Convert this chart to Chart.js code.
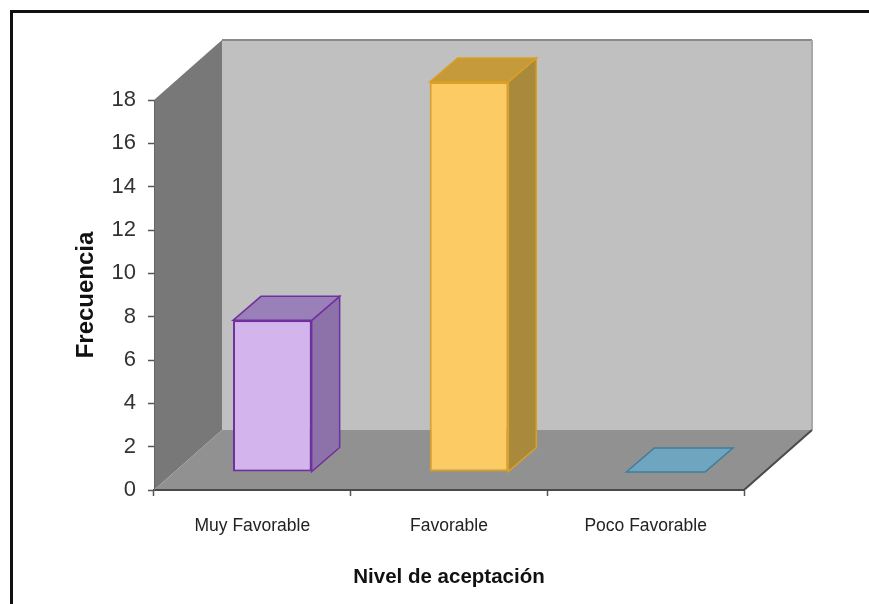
<!DOCTYPE html>
<html>
<head>
<meta charset="utf-8">
<title>Nivel de aceptación</title>
<script src="https://cdn.jsdelivr.net/npm/chart.js@4/dist/chart.umd.min.js"></script>
<style>
    html, body { margin: 0; padding: 0; background: #fff; }
    #wrap { width: 869px; height: 604px; }
</style>
</head>
<body>
<div id="wrap"><canvas id="myChart" width="869" height="604"></canvas></div>
<script>
const categories = ['Muy Favorable', 'Favorable', 'Poco Favorable'];
const frecuencia = [7, 18, 0];
const yMax = 18;
const yStep = 2;

const frontColors = ['#d4b4ec', '#fccb63', '#6fa5bf'];
const sideColors = ['#8c72a8', '#a98a3c', '#6fa5bf'];
const topColors = ['#9a80b8', '#c49a3a', '#6fa5bf'];
const edgeColors = ['#7030a0', '#dba024', '#3f7d9c'];

// profondeur du "3D" excel
const wallDx = 68, wallDy = 60;
const barShiftX = 20, barShiftY = 18;
const barDx = 28, barDy = 24;

function poly(ctx, pts, fill, stroke, lw) {
    ctx.beginPath();
    pts.forEach((p, i) => i ? ctx.lineTo(p[0], p[1]) : ctx.moveTo(p[0], p[1]));
    ctx.closePath();
    if (fill) { ctx.fillStyle = fill; ctx.fill(); }
    if (stroke) { ctx.strokeStyle = stroke; ctx.lineWidth = lw || 1; ctx.stroke(); }
}

const walls3d = {
    id: 'walls3d',
    beforeDraw(chart) {
        const ctx = chart.ctx;
        const a = chart.chartArea;
        ctx.save();
        ctx.fillStyle = '#fff';
        ctx.fillRect(0, 0, chart.width, chart.height);
        // cadre noir, seulement haut et gauche
        ctx.strokeStyle = '#111';
        ctx.lineWidth = 3;
        ctx.beginPath();
        ctx.moveTo(11.5, chart.height);
        ctx.lineTo(11.5, 11.5);
        ctx.lineTo(chart.width, 11.5);
        ctx.stroke();
        // fond, mur gauche, sol
        poly(ctx, [[a.left + wallDx, a.top - wallDy], [a.right + wallDx, a.top - wallDy],
                   [a.right + wallDx, a.bottom - wallDy], [a.left + wallDx, a.bottom - wallDy]], '#c0c0c0');
        ctx.strokeStyle = '#8a8a8a';
        ctx.lineWidth = 2;
        ctx.beginPath();
        ctx.moveTo(a.left + wallDx, a.top - wallDy);
        ctx.lineTo(a.right + wallDx, a.top - wallDy);
        ctx.stroke();
        ctx.strokeStyle = '#a8a8a8';
        ctx.beginPath();
        ctx.moveTo(a.right + wallDx, a.top - wallDy);
        ctx.lineTo(a.right + wallDx, a.bottom - wallDy);
        ctx.stroke();
        poly(ctx, [[a.left, a.top], [a.left + wallDx, a.top - wallDy],
                   [a.left + wallDx, a.bottom - wallDy], [a.left, a.bottom]], '#787878');
        poly(ctx, [[a.left, a.bottom], [a.left + wallDx, a.bottom - wallDy],
                   [a.right + wallDx, a.bottom - wallDy], [a.right, a.bottom]], '#919191');
        ctx.strokeStyle = '#4a4a4a';
        ctx.lineWidth = 2;
        ctx.beginPath();
        ctx.moveTo(a.right, a.bottom);
        ctx.lineTo(a.right + wallDx, a.bottom - wallDy);
        ctx.stroke();
        ctx.restore();
    },
    beforeDatasetsDraw(chart) {
        const ctx = chart.ctx;
        // faces des barres, puis decalage pour les faces avant
        ctx.save();
        ctx.translate(barShiftX, -barShiftY);
        chart.getDatasetMeta(0).data.forEach((bar, i) => {
            const p = bar.getProps(['x', 'y', 'base', 'width']);
            const l = p.x - p.width / 2, r = p.x + p.width / 2;
            if (p.base - p.y > 1) {
                poly(ctx, [[r, p.y], [r + barDx, p.y - barDy], [r + barDx, p.base - barDy], [r, p.base]],
                    sideColors[i], edgeColors[i], 1.5);
            }
            poly(ctx, [[l, p.y], [l + barDx, p.y - barDy], [r + barDx, p.y - barDy], [r, p.y]],
                topColors[i], edgeColors[i], 1.5);
        });
        ctx.restore();

        ctx.save();
        ctx.translate(barShiftX, -barShiftY);
    },
    afterDatasetsDraw(chart) {
        chart.ctx.restore();
    }
};

const ctx = document.getElementById('myChart');

new Chart(ctx, {
    type: 'bar',
    plugins: [walls3d],
    data: {
        labels: categories,
        datasets: [{
            label: 'Frecuencia',
            data: frecuencia,
            backgroundColor: frontColors,
            borderColor: edgeColors,
            borderWidth: 2,
            borderSkipped: false,
            categoryPercentage: 0.4,
            barPercentage: 1,
            clip: false
        }]
    },
    options: {
        responsive: false,
        animation: false,
        layout: { padding: { left: 72, right: 125, top: 100, bottom: 14 } },
        plugins: {
            legend: { display: false },
            tooltip: { enabled: false }
        },
        scales: {
            x: {
                grid: { drawOnChartArea: false, drawTicks: true, tickLength: 6, tickColor: '#555', tickWidth: 1.5 },
                border: { color: '#4a4a4a', width: 2 },
                ticks: { color: '#222', padding: 20, maxRotation: 0,
                    font: { family: '"Liberation Sans"', size: 17.5 } },
                title: { display: true, text: 'Nivel de aceptación', color: '#111', padding: 0,
                    font: { family: '"Liberation Sans"', size: 20.5, weight: 'bold' } },
                afterFit(s) { s.height = 100; }
            },
            y: {
                min: 0,
                max: yMax,
                grid: { drawOnChartArea: false, drawTicks: true, tickLength: 6, tickColor: '#555', tickWidth: 1.5 },
                border: { color: '#666', width: 1 },
                ticks: { stepSize: yStep, color: '#333', padding: 12,
                    font: { family: '"Liberation Sans"', size: 22 } },
                title: { display: true, text: 'Frecuencia', color: '#111', padding: 0,
                    font: { family: '"Liberation Sans"', size: 24, weight: 'bold' } },
                afterFit(s) { s.width = 82; }
            }
        }
    }
});
</script>
</body>
</html>
